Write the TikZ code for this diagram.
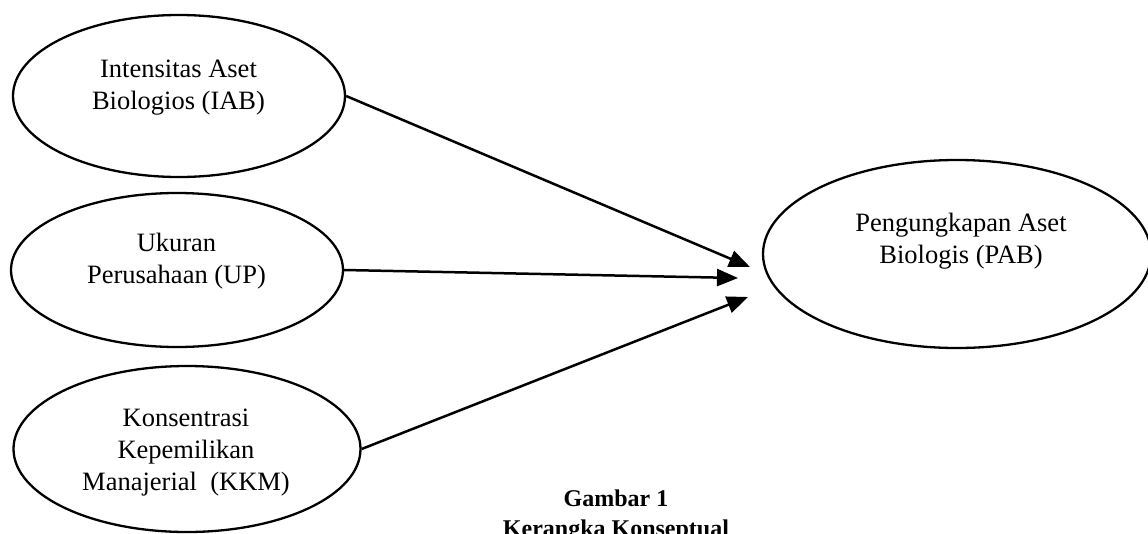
\documentclass[tikz,border=0pt]{standalone}
\usepackage{fontspec}
\setmainfont{Liberation Serif}
\usetikzlibrary{shapes.geometric,arrows.meta}
\begin{document}
\begin{tikzpicture}[x=1pt,y=-1pt,
  var/.style={draw,ellipse,line width=2.3pt,inner sep=0pt},
  lbl/.style={align=center,inner sep=0pt,font=\fontsize{26.5}{32}\selectfont},
  captxt/.style={align=center,inner sep=0pt,font=\fontsize{24}{30}\selectfont\bfseries},
  arr/.style={line width=2.5pt,-{Triangle[length=21pt,width=17pt]}}]
\useasboundingbox (0,0) rectangle (1148,533);
% ellipses
\node[var,minimum width=332pt,minimum height=162pt] (iab) at (179,96) {};
\node[var,minimum width=332pt,minimum height=154pt] (up) at (177,270) {};
\node[var,minimum width=347pt,minimum height=166pt] (kkm) at (187,449) {};
\node[var,minimum width=388pt,minimum height=188pt] (pab) at (957,254) {};
% texts
\node[lbl] (iabt) at (178.5,87.5) {Intensitas Aset\\Biologios (IAB)};
\node[lbl] (upt) at (176.5,261) {Ukuran\\Perusahaan (UP)};
\node[lbl] (kkmt) at (186,452.5) {Konsentrasi\\Kepemilikan\\Manajerial\ \ (KKM)};
\node[lbl] (pabt) at (961,241.5) {Pengungkapan Aset\\Biologis (PAB)};
\node[captxt] (capt) at (616,516) {Gambar 1\\Kerangka Konseptual};
% arrow tips
\coordinate (tipA) at (750,267);
\coordinate (tipB) at (738,278);
\coordinate (tipC) at (748,297);
\draw[arr] (iab.east) -- (tipA);
\draw[arr] (up.east) -- (tipB);
\draw[arr] (kkm.east) -- (tipC);
\end{tikzpicture}
\end{document}
